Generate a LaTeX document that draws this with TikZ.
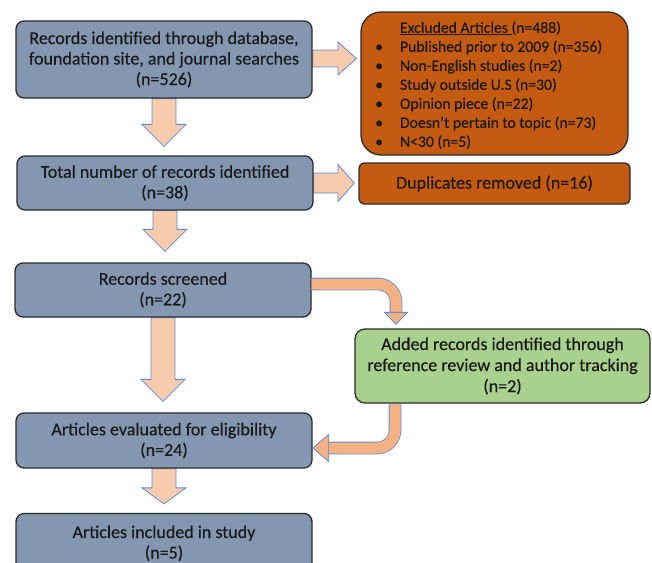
\documentclass[tikz,border=0pt]{standalone}
\usepackage{fontspec}
\setmainfont{Carlito}[FakeBold=0.35]
\usetikzlibrary{calc,backgrounds}
\definecolor{bluef}{HTML}{8497B0}
\definecolor{edge}{HTML}{2B2B2B}
\definecolor{orangef}{HTML}{C55A11}
\definecolor{greenf}{HTML}{A9D18E}
\definecolor{arrf}{HTML}{F8CBAD}
\definecolor{arrcurv}{HTML}{F4B183}
\definecolor{arrline}{HTML}{5B8BD9}
\definecolor{txt}{HTML}{1A1A1A}
\tikzset{
  box/.style={draw=edge, line width=1.3pt, inner sep=0pt, align=center, text=txt,
    font=\fontsize{18}{20.5}\selectfont},
  bluebox/.style={box, fill=bluef, rounded corners=8pt, minimum width=296pt},
  orangebox/.style={box, fill=orangef},
  greenbox/.style={box, fill=greenf, rounded corners=10pt, font=\fontsize{18}{21}\selectfont},
  blk/.style={fill=arrf, draw=arrline, line width=0.8pt, line join=miter},
  curvshaft/.style={draw=arrline, line width=0.8pt, double=arrcurv, double distance=11pt, rounded corners=18pt},
  curvhead/.style={fill=arrcurv, draw=arrline, line width=0.8pt, line join=miter},
}
\newcommand\downarr[4]{%
  \draw[blk] let \p1=(#1.south), \p2=(#2.north) in
    ({\x1-12pt},\y1) -- ({\x1-12pt},{\y2+#4pt+#3pt}) -- ({\x1-22pt},{\y2+#4pt+#3pt})
    -- (\x1,{\y2+#4pt}) -- ({\x1+22pt},{\y2+#4pt+#3pt}) -- ({\x1+12pt},{\y2+#4pt+#3pt})
    -- ({\x1+12pt},\y1) -- cycle;}
% #1 from, #2 to, #3 y offset of centre, #4 shaft half, #5 head half
\newcommand\rightarr[5]{%
  \draw[blk] let \p1=(#1.east), \p2=(#2.west) in
    (\x1,{\y1+#3pt+#4pt}) -- (338pt,{\y1+#3pt+#4pt}) -- (338pt,{\y1+#3pt+#5pt})
    -- ({\x2-4pt},{\y1+#3pt}) -- (338pt,{\y1+#3pt-#5pt}) -- (338pt,{\y1+#3pt-#4pt})
    -- (\x1,{\y1+#3pt-#4pt}) -- cycle;}
\begin{document}
\begin{tikzpicture}[x=1pt,y=-1pt]
\useasboundingbox (0,0) rectangle (652,562);
\clip (0,0) rectangle (652,562);

% left column
\node[bluebox, minimum height=77pt] (b1) at (164,59.5)
  {Records identified through database,\\foundation site, and journal searches\\(n=526)};
\node[bluebox, minimum height=54pt] (b2) at (165,183)
  {Total number of records identified\\(n=38)};
\node[bluebox, minimum height=54pt] (b3) at (163,290)
  {Records screened\\(n=22)};
\node[bluebox, minimum height=55pt] (b4) at (164,440.5)
  {Articles evaluated for eligibility\\(n=24)};
\node[bluebox, minimum height=63pt, text depth=6pt] (b5) at (164,545)
  {Articles included in study\\(n=5)};

% right column
\node[orangebox, rounded corners=20pt, minimum width=267pt, minimum height=143pt] (ex) at (494.5,83.5) {};
\node[anchor=west, inner sep=0pt, text=txt, font=\fontsize{15.7}{19}\selectfont] (extxt) at (375,86)
  {\begin{tabular}{@{}l@{\hspace{17pt}}l@{}}
    & \underline{Excluded Articles\ }(n=488)\\
   \textbullet & Published prior to 2009 (n=356)\\
   \textbullet & Non-English studies (n=2)\\
   \textbullet & Study outside U.S (n=30)\\
   \textbullet & Opinion piece (n=22)\\
   \textbullet & Doesn’t pertain to topic (n=73)\\
   \textbullet & N<30 (n=5)
  \end{tabular}};
\node[orangebox, rounded corners=5pt, minimum width=271pt, minimum height=41pt] (dup) at (494.5,183.5)
  {Duplicates removed (n=16)};
\node[greenbox, minimum width=295pt, minimum height=74pt] (g) at (502.5,366)
  {Added records identified through\\reference review and author tracking\\(n=2)};

\begin{pgfonlayer}{background}
\downarr{b1}{b2}{22}{9}
\downarr{b2}{b3}{22}{11}
\downarr{b3}{b4}{22}{11}
\downarr{b4}{b5}{16}{9}
\rightarr{b1}{ex}{1}{8.5}{16.5}
\rightarr{b2}{dup}{0}{10}{18.5}
\end{pgfonlayer}

% curved arrow: screened -> added records
\draw[curvshaft] let \p1=(b3.east), \p2=(g.north) in
  (\x1,{\y1+6pt}) -- (396pt,{\y1+6pt}) -- (396pt,{\y2+15.5pt});
\draw[curvhead] let \p2=(g.north) in
  (384.5pt,{\y2+16pt}) -- (407.5pt,{\y2+16pt}) -- (396pt,{\y2+4pt}) -- cycle;

% curved arrow: added records -> evaluated
\draw[curvshaft] let \p1=(g.south), \p2=(b4.east) in
  (395pt,{\y1-0.7pt}) -- (395pt,{\y2-7.5pt}) -- ({\x2+15.5pt},{\y2-7.5pt});
\draw[curvhead] let \p2=(b4.east) in
  ({\x2+16pt},{\y2+6pt}) -- ({\x2+16pt},{\y2-21pt}) -- (\x2,{\y2-7.5pt}) -- cycle;
\end{tikzpicture}
\end{document}
